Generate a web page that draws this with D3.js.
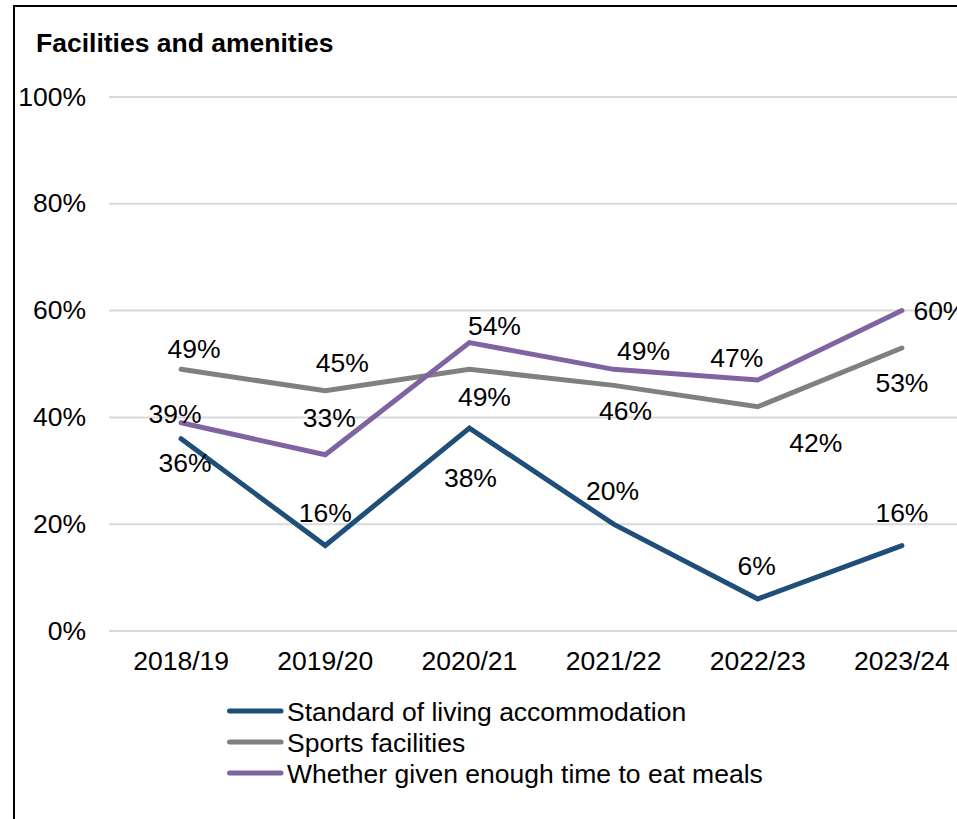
<!DOCTYPE html>
<html>
<head>
<meta charset="utf-8">
<script src="https://cdn.jsdelivr.net/npm/d3@7"></script>
<style>
  html, body { margin: 0; padding: 0; background: #fff; }
  svg { display: block; font-family: "Liberation Sans", Arial, Helvetica, sans-serif; }
</style>
</head>
<body>
<svg id="chart" width="957" height="819"></svg>
<script>
// Survey years
const years = ["2018/19", "2019/20", "2020/21", "2021/22", "2022/23", "2023/24"];

// Percentage of respondents rating each item positively
const livingAccommodation = [36, 16, 38, 20, 6, 16];
const sportsFacilities = [49, 45, 49, 46, 42, 53];
const timeToEatMeals = [39, 33, 54, 49, 47, 60];

const seriesNames = [
  "Standard of living accommodation",
  "Sports facilities",
  "Whether given enough time to eat meals"
];
const seriesColors = ["#1f4e79", "#808080", "#8064a2"];

const yTicks = [0, 20, 40, 60, 80, 100];

// Hand-placed data label offsets (dx, dy from each point), per series
const labelOffsets = [
  [[4, 33], [0, -24], [1, 59], [-1, -24], [-1, -24], [0, -24]],
  [[13, -11], [17, -19], [15, 37], [12, 35], [58, 45], [0, 44]],
  [[-6, 0], [4, -28], [25, -8], [30, -9], [-21, -13], [38, 9]]
];

const FONT_SIZE = 26.5;

const series = [livingAccommodation, sportsFacilities, timeToEatMeals].map((values, i) => ({
  name: seriesNames[i],
  color: seriesColors[i],
  values,
  offsets: labelOffsets[i]
}));

const svg = d3.select("#chart");

const plot = { left: 109, right: 974, top: 97, bottom: 631 };

const x = d3.scaleBand().domain(years).range([plot.left, plot.right]);
const y = d3.scaleLinear().domain([0, 100]).range([plot.bottom, plot.top]);
const cx = d => x(d) + x.bandwidth() / 2;

// Outer frame (left and top edges)
svg.append("path")
  .attr("d", "M14,819 L14,6 L957,6")
  .attr("fill", "none")
  .attr("stroke", "#000")
  .attr("stroke-width", 2);

// Title
svg.append("text")
  .attr("x", 36).attr("y", 52)
  .attr("font-size", FONT_SIZE).attr("font-weight", "bold")
  .attr("fill", "#000")
  .text("Facilities and amenities");

// Gridlines
svg.append("g")
  .selectAll("line")
  .data(yTicks)
  .join("line")
  .attr("x1", plot.left).attr("x2", plot.right)
  .attr("y1", d => y(d)).attr("y2", d => y(d))
  .attr("stroke", "#d9d9d9")
  .attr("stroke-width", 2);

// Y axis labels
const yAxis = d3.axisLeft(y).tickValues(yTicks).tickFormat(d => d + "%").tickSize(0).tickPadding(0);
svg.append("g")
  .attr("transform", "translate(86,0)")
  .call(yAxis)
  .call(g => g.select(".domain").remove())
  .call(g => g.selectAll("text")
    .attr("font-size", FONT_SIZE)
    .attr("font-family", "Liberation Sans, Arial, sans-serif")
    .attr("fill", "#000")
    .attr("dy", 8));

// X axis labels
const xAxis = d3.axisBottom(x).tickSize(0).tickPadding(0);
svg.append("g")
  .attr("transform", `translate(0,${plot.bottom})`)
  .call(xAxis)
  .call(g => g.select(".domain").remove())
  .call(g => g.selectAll("text")
    .attr("font-size", FONT_SIZE)
    .attr("font-family", "Liberation Sans, Arial, sans-serif")
    .attr("fill", "#000")
    .attr("y", 39)
    .attr("dy", 0));

// Lines
const line = d3.line()
  .x((d, i) => cx(years[i]))
  .y(d => y(d));

svg.append("g")
  .selectAll("path")
  .data(series)
  .join("path")
  .attr("d", s => line(s.values))
  .attr("fill", "none")
  .attr("stroke", s => s.color)
  .attr("stroke-width", 5)
  .attr("stroke-linecap", "round")
  .attr("stroke-linejoin", "miter");

// Data labels
svg.append("g")
  .selectAll("g")
  .data(series)
  .join("g")
  .selectAll("text")
  .data(s => s.values.map((v, i) => ({ v, i, off: s.offsets[i] })))
  .join("text")
  .attr("x", d => cx(years[d.i]) + d.off[0])
  .attr("y", d => y(d.v) + d.off[1])
  .attr("text-anchor", "middle")
  .attr("font-size", FONT_SIZE)
  .attr("fill", "#000")
  .text(d => d.v + "%");

// Legend
const legend = svg.append("g")
  .selectAll("g")
  .data(series)
  .join("g")
  .attr("transform", (d, i) => `translate(0,${711 + i * 31})`);

legend.append("line")
  .attr("x1", 229.5).attr("x2", 281)
  .attr("y1", 0).attr("y2", 0)
  .attr("stroke", d => d.color)
  .attr("stroke-width", 5)
  .attr("stroke-linecap", "round");

legend.append("text")
  .attr("x", 287).attr("y", 10)
  .attr("font-size", FONT_SIZE)
  .attr("fill", "#000")
  .text(d => d.name);
</script>
</body>
</html>
